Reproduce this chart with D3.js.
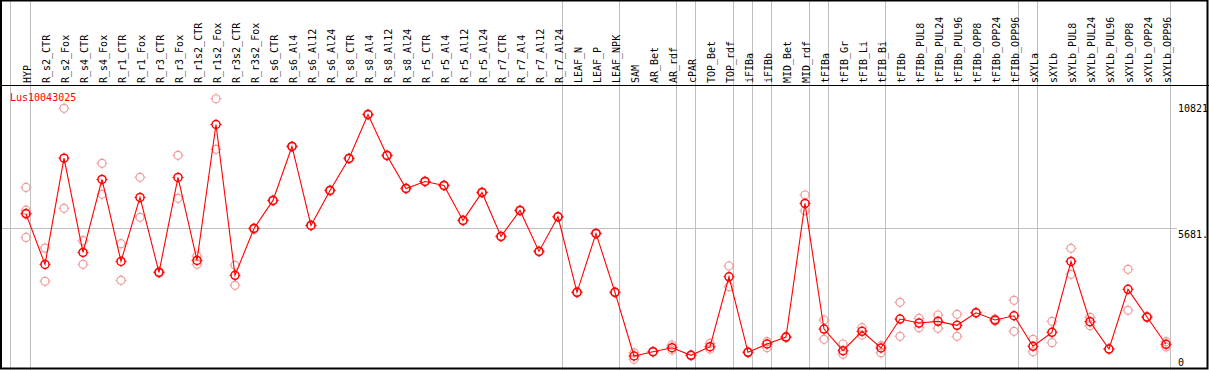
<!DOCTYPE html>
<html>
<head>
<meta charset="utf-8">
<script src="https://cdn.jsdelivr.net/npm/d3@7/dist/d3.min.js"></script>
<style>
  html, body { margin: 0; padding: 0; background: #fff; }
  svg { display: block; }
  text { font-family: "DejaVu Sans Mono", "Liberation Mono", monospace; font-size: 10px; }
</style>
</head>
<body>
<svg id="chart" width="1209" height="370"></svg>
<script>
const geneName = "Lus10043025";

const categories = [
  "HYP","R_s2_CTR","R_s2_Fox","R_s4_CTR","R_s4_Fox","R_r1_CTR","R_r1_Fox","R_r3_CTR","R_r3_Fox",
  "R_r1s2_CTR","R_r1s2_Fox","R_r3s2_CTR","R_r3s2_Fox","R_s6_CTR","R_s6_Al4","R_s6_Al12","R_s6_Al24",
  "R_s8_CTR","R_s8_Al4","R_s8_Al12","R_s8_Al24","R_r5_CTR","R_r5_Al4","R_r5_Al12","R_r5_Al24",
  "R_r7_CTR","R_r7_Al4","R_r7_Al12","R_r7_Al24","LEAF_N","LEAF_P","LEAF_NPK","SAM","AR_Bet","AR_rdf",
  "cPAR","TOP_Bet","TOP_rdf","iFIBa","iFIBb","MID_Bet","MID_rdf","tFIBa","tFIB_Gr","tFIB_Li","tFIB_Bi",
  "tFIBb","tFIBb_PUL8","tFIBb_PUL24","tFIBb_PUL96","tFIBb_OPP8","tFIBb_OPP24","tFIBb_OPP96",
  "sXYLa","sXYLb","sXYLb_PUL8","sXYLb_PUL24","sXYLb_PUL96","sXYLb_OPP8","sXYLb_OPP24","sXYLb_OPP96"
];

const meanValues = [
  6275, 4211, 8548, 4700, 7679, 4333, 6944, 3884, 7760,
  4374, 9923, 3762, 5679, 6822, 9025, 5802, 7230,
  8535, 10331, 8658, 7311, 7597, 7434, 6006, 7148,
  5353, 6414, 4741, 6153, 3068, 5475, 3068, 469, 645, 808,
  498, 849, 3705, 620, 959, 1244, 6699, 1571, 685, 1477, 796,
  1979, 1816, 1885, 1722, 2236, 1938, 2113,
  865, 1436, 4333, 1869, 755, 3191, 2060, 947
];

const replicateValues = [
  [7352, 6426, 6304, 5312], [4876, 3517], [10583, 6500], [5177, 4214], [8338, 7072],
  [5055, 3560], [7766, 6133], [3920, 3858], [8664, 6909],
  [4553, 4214], [10975, 8909], [4173, 3356], [5700, 5640], [6840, 6800],
  [9040, 9010], [5820, 5785], [7250, 7210],
  [8555, 8515], [10350, 10310], [8680, 8640], [7330, 7290], [7615, 7580], [7450, 7415],
  [6025, 5990], [7165, 7130],
  [5370, 5335], [6430, 6395], [4760, 4725], [6170, 6135], [3085, 3050], [5490, 5460], [3085, 3050],
  [335, 600], [630, 660], [919, 715],
  [480, 515], [988, 755], [4144, 3299], [600, 640], [1053, 808], [1220, 1270], [7043, 6402],
  [1939, 1151], [960, 539], [1625, 1327], [890, 604],
  [2662, 1274], [2009, 1625], [2144, 1601], [2172, 1274], [2220, 2250], [1980, 1899], [2744, 1478],
  [1151, 645], [1886, 1013], [4867, 3805], [2050, 1707], [740, 770], [4009, 2335], [2040, 2080], [1053, 837]
];

// group separators: the category after which a grey vertical rule is drawn
const groupEnds = ["HYP","R_r7_Al24","LEAF_NPK","AR_rdf","cPAR","TOP_rdf","iFIBa","iFIBb",
  "MID_rdf","tFIBa","tFIB_Bi","tFIBb_OPP96","sXYLa","sXYLb_OPP96"];

const yTicks = [0, 5681, 10821];
const yTickLabels = ["0", "5681.", "10821"];

const W = 1209, H = 370;
const svg = d3.select("#chart");

const x = d3.scaleBand().domain(categories).range([11, 1170]).padding(0);
const px = c => x(c) + 15;
const y = d3.scaleLinear().domain([0, 10821]).range([367.5, 102.5]);

// grid: vertical group separators
const grid = svg.append("g");
grid.append("line")
  .attr("x1", x(categories[0]) - 0.5).attr("x2", x(categories[0]) - 0.5)
  .attr("y1", 0).attr("y2", H)
  .attr("stroke", "#c0c0c0").attr("stroke-width", 1);
grid.selectAll("line.sep").data(groupEnds).enter().append("line")
  .attr("class", "sep")
  .attr("x1", d => x(d) + x.bandwidth() + 0.5)
  .attr("x2", d => x(d) + x.bandwidth() + 0.5)
  .attr("y1", 0).attr("y2", H)
  .attr("stroke", "#c0c0c0").attr("stroke-width", 1);

// horizontal grey rule at mid tick
grid.append("line")
  .attr("x1", 1).attr("x2", 1177)
  .attr("y1", Math.round(y(5681)) + 0.5).attr("y2", Math.round(y(5681)) + 0.5)
  .attr("stroke", "#c0c0c0").attr("stroke-width", 1);

// frame
svg.append("rect").attr("x", 1).attr("y", 0.5).attr("width", 1206.5).attr("height", 368)
  .attr("fill", "none").attr("stroke", "#000").attr("stroke-width", 2);
svg.append("line").attr("x1", 0).attr("x2", W).attr("y1", 85.5).attr("y2", 85.5)
  .attr("stroke", "#000").attr("stroke-width", 1);

// category labels (vertical)
svg.append("g").selectAll("text").data(categories).enter().append("text")
  .attr("transform", d => `translate(${px(d) + 4.5},83) rotate(-90)`)
  .attr("text-anchor", "start")
  .attr("fill", "#000")
  .text(d => d);

// y tick labels on the right
svg.append("g").selectAll("text").data(yTicks).enter().append("text")
  .attr("x", 1178)
  .attr("y", (d) => d === 0 ? y(d) - 1.5 : y(d) + 9.5)
  .attr("fill", "#000")
  .text((d, i) => yTickLabels[i]);

// gene name
svg.append("text").attr("x", 10).attr("y", 101).attr("fill", "#ff0000").text(geneName);

// marker helper: circle with tiny spurs
function marker(g, cx, cy, color, sw) {
  const r = 4;
  g.append("circle").attr("cx", cx).attr("cy", cy).attr("r", r)
    .attr("fill", "none").attr("stroke", color).attr("stroke-width", sw);
  const s = [[0, -1], [0, 1], [-1, 0], [1, 0]];
  s.forEach(([dx, dy]) => {
    g.append("line")
      .attr("x1", cx + dx * r).attr("y1", cy + dy * r)
      .attr("x2", cx + dx * (r + 1.5)).attr("y2", cy + dy * (r + 1.5))
      .attr("stroke", color).attr("stroke-width", 1);
  });
}

// replicates
const repG = svg.append("g");
categories.forEach((c, i) => {
  replicateValues[i].forEach(v => marker(repG, px(c), y(v), "#f09a9a", 1.2));
});

// mean line
const line = d3.line().x((d, i) => px(categories[i])).y(d => y(d));
svg.append("path").datum(meanValues)
  .attr("d", line).attr("fill", "none").attr("stroke", "#ff0000").attr("stroke-width", 1.1);

// mean markers
const meanG = svg.append("g");
categories.forEach((c, i) => marker(meanG, px(c), y(meanValues[i]), "#ff0000", 1.5));
</script>
</body>
</html>
